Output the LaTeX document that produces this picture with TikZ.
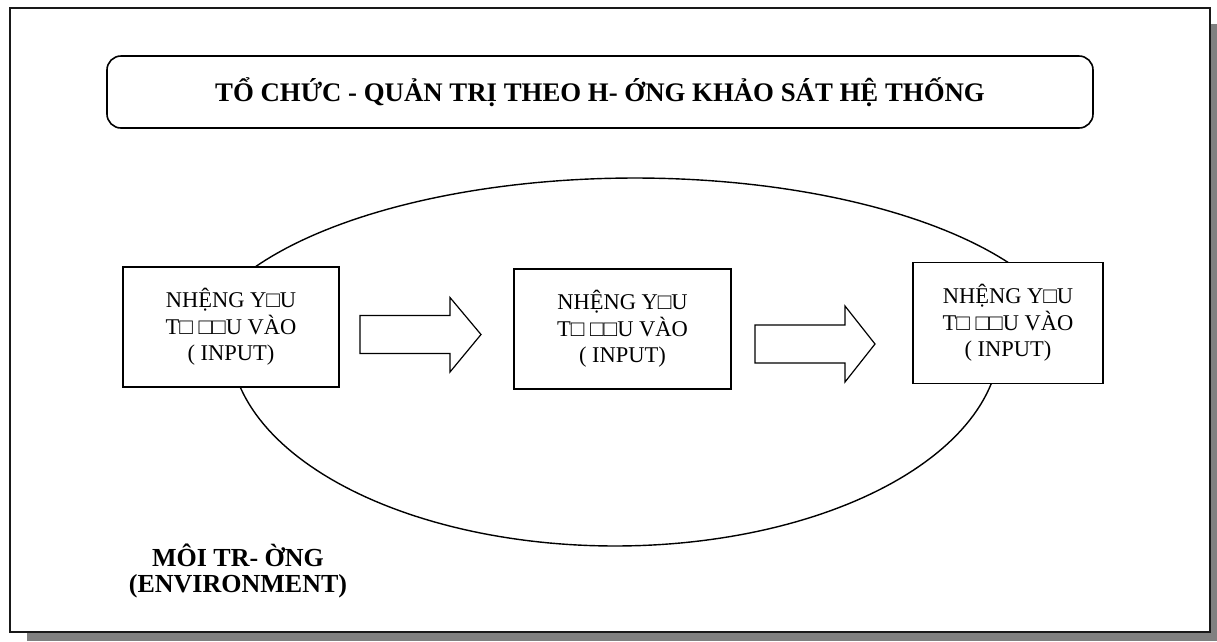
\documentclass[tikz,border=0pt]{standalone}
\usepackage{fontspec}
\setmainfont{Liberation Serif}
\begin{document}
\begin{tikzpicture}[x=1pt,y=-1pt,
  frame/.style={draw=black!90,line width=2.4pt,fill=white},
  titlebox/.style={draw=black,line width=1.6pt,rounded corners=14pt,minimum width=986pt,minimum height=72pt,font=\bfseries\fontsize{26.8}{30}\selectfont,inner sep=0pt},
  inbox/.style={draw=black,line width=1.4pt,fill=white,align=center,inner sep=0pt,font=\fontsize{22.5}{26.5}\selectfont},
  blockarrow/.style={draw=black,line width=1.2pt,fill=white},
  envline/.style={line width=1.4pt},
  envtext/.style={align=center,font=\bfseries\fontsize{26}{26.5}\selectfont,inner sep=0pt}]
\useasboundingbox (0,0) rectangle (1217,641);
% shadow and frame
\fill[gray] (27,24) rectangle (1217,641);
\draw[frame] (10,8) rectangle (1210,632);
% title
\node[titlebox] (title) at (600,92) {TỔ CHỨC - QUẢN TRỊ THEO H- ỚNG KHẢO SÁT HỆ THỐNG};
% environment outline (upper and lower arcs; their ends are hidden by the boxes)
\draw[envline] plot[domain=0:180,samples=120] ({635+442*cos(\x)},{360-182*sin(\x)});
\draw[envline] plot[domain=0:180,samples=120] ({615+385*cos(\x)},{340+206*sin(\x)});
% boxes
\node[inbox,minimum width=216pt,minimum height=120pt] (b1) at (231,327) {NHỆNG Y□U\\T□ □□U VÀO\\( INPUT)};
\node[inbox,minimum width=217pt,minimum height=120pt] (b2) at (622.5,329) {NHỆNG Y□U\\T□ □□U VÀO\\( INPUT)};
\node[inbox,minimum width=190pt,minimum height=121pt] (b3) at (1008,323) {NHỆNG Y□U\\T□ □□U VÀO\\( INPUT)};
% block arrows
\coordinate (a1) at (360,334.5);
\draw[blockarrow] (a1) ++(0,-19) -- ++(90,0) -- ++(0,-18) -- (481,334.5) -- (450,372) -- ++(0,-18.5) -- ++(-90,0) -- cycle;
\coordinate (a2) at (755,344);
\draw[blockarrow] (a2) ++(0,-19) -- ++(90,0) -- ++(0,-19) -- (875,344) -- (845,382) -- ++(0,-19) -- ++(-90,0) -- cycle;
% environment label
\node[envtext] (env) at (238,571) {MÔI TR- ỜNG\\(ENVIRONMENT)};
\end{tikzpicture}
\end{document}
